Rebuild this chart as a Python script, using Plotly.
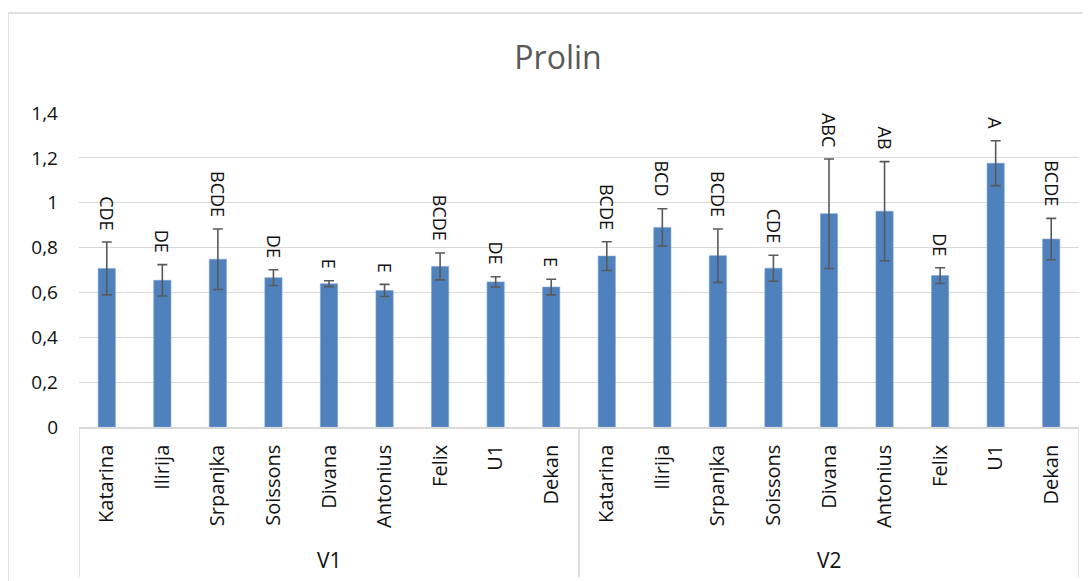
import plotly.graph_objects as go

groups = ["V1"] * 9 + ["V2"] * 9
cultivars = ["Katarina", "Ilirija", "Srpanjka", "Soissons", "Divana", "Antonius", "Felix", "U1", "Dekan"] * 2
values = [0.707, 0.654, 0.748, 0.666, 0.639, 0.609, 0.716, 0.647, 0.624,
          0.762, 0.890, 0.764, 0.708, 0.951, 0.962, 0.675, 1.176, 0.838]
errors = [0.118, 0.070, 0.135, 0.035, 0.013, 0.027, 0.060, 0.023, 0.035,
          0.064, 0.083, 0.119, 0.058, 0.244, 0.221, 0.035, 0.100, 0.092]
letters = ["CDE", "DE", "BCDE", "DE", "E", "E", "BCDE", "DE", "E",
           "BCDE", "BCD", "BCDE", "CDE", "ABC", "AB", "DE", "A", "BCDE"]
group_names = ["V1", "V2"]
yticks = [0, 0.2, 0.4, 0.6, 0.8, 1.0, 1.2, 1.4]
yticktext = ["0", "0,2", "0,4", "0,6", "0,8", "1", "1,2", "1,4"]

FONT = "Open Sans, Noto Sans, sans-serif"
TXT = "#111111"

# the page body adds an 8px offset; figure is sized to compensate
OFF = 8
W, H = 1091 - OFF, 581 - OFF
plot_l, plot_r, plot_t, plot_b = 79 - OFF, 1079 - OFF, 113 - OFF, 427 - OFF
ml, mr, mt, mb = plot_l, W - plot_r, plot_t, H - plot_b
pw, ph = plot_r - plot_l, plot_b - plot_t

keys = [g + "|" + c for g, c in zip(groups, cultivars)]

fig = go.Figure()
fig.add_trace(go.Bar(
    x=keys, y=values,
    marker=dict(color="#4F81BD", line=dict(color="#7EA3D3", width=0.6)),
    error_y=dict(type="data", array=errors, visible=True, color="#595959",
                 thickness=1.6, width=5),
    width=0.31,
    hoverinfo="skip",
))

for k, v, e, t in zip(keys, values, errors, letters):
    fig.add_annotation(
        x=k, y=v + e, text=t, textangle=90, showarrow=False,
        xref="x", yref="y", yanchor="bottom", yshift=10,
        font=dict(family=FONT, size=18, color=TXT),
    )

# group labels and dividers of the two-level category axis
for gname in group_names:
    members = [k for k, g in zip(keys, groups) if g == gname]
    idx = [keys.index(m) for m in members]
    mid = (idx[0] + idx[-1]) / 2
    fig.add_annotation(x=mid, y=-(560 - 427) / ph, xref="x", yref="paper",
                       text=gname, showarrow=False, yanchor="middle",
                       font=dict(family=FONT, size=21, color=TXT))
    for b in (idx[0] - 0.5, idx[-1] + 0.5):
        fig.add_shape(type="line", xref="x", yref="paper", x0=b, x1=b,
                      y0=0, y1=-(577 - 427) / ph,
                      line=dict(color="#D9D9D9", width=1.5))

# outer chart border
fig.add_shape(type="rect", xref="paper", yref="paper",
              x0=(0 - ml) / pw, x1=(W + 10 - ml) / pw,
              y0=(plot_b - H - 20) / ph, y1=(plot_b - (13 - OFF)) / ph,
              line=dict(color="#D9D9D9", width=1.5), fillcolor="rgba(0,0,0,0)", layer="below")

fig.update_layout(
    width=W, height=H,
    margin=dict(l=ml, r=mr, t=mt, b=mb),
    paper_bgcolor="white", plot_bgcolor="white",
    title=dict(text="Prolin", x=(558 - OFF) / W, xanchor="center", xref="container",
               y=1 - (58 - OFF) / H, yanchor="middle", yref="container",
               font=dict(family=FONT, size=32, color="#595959")),
    showlegend=False,
    font=dict(family=FONT, size=16, color=TXT),
)
fig.update_yaxes(range=[0, 1.4], tickvals=yticks, ticktext=yticktext,
                 showgrid=True, gridcolor="#D9D9D9", gridwidth=1,
                 zeroline=False, showline=False, ticks="", ticklabelstandoff=20,
                 tickfont=dict(family=FONT, size=19, color=TXT))
fig.update_xaxes(type="category", tickvals=keys, ticktext=cultivars, tickangle=-90,
                 range=[-0.5, len(keys) - 0.5],
                 showline=True, linecolor="#D9D9D9", linewidth=1.5,
                 ticks="", ticklabelstandoff=8,
                 tickfont=dict(family=FONT, size=20, color=TXT))

fig.write_html("out.html")
